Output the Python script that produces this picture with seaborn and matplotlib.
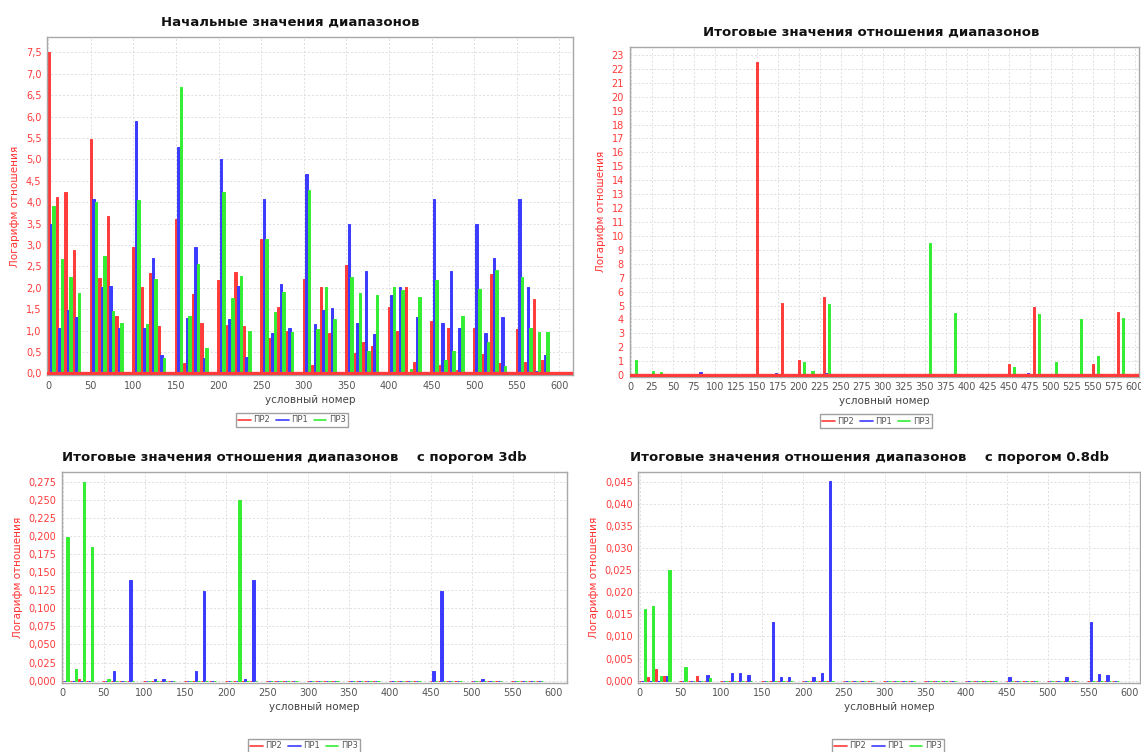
import pandas as pd
import seaborn as sns
import matplotlib
matplotlib.use("Agg")
import matplotlib.pyplot as plt
from matplotlib.lines import Line2D
from matplotlib.ticker import FuncFormatter, MultipleLocator


# условные номера групп (по три столбика в группе: ПР2, ПР1, ПР3)
nomera = [0, 10, 20, 30, 50, 60, 70, 80, 100, 110, 120, 130,
          150, 160, 170, 180, 200, 210, 220, 230, 250, 260, 270, 280,
          300, 310, 320, 330, 350, 360, 370, 380, 400, 410, 420, 430,
          450, 460, 470, 480, 500, 510, 520, 530, 550, 560, 570, 580]
series_names = ["ПР2", "ПР1", "ПР3"]

# 1. Начальные значения диапазонов
start_pr2 = [7.50, 4.11, 4.24, 2.87, 5.48, 2.23, 3.68, 1.35, 2.96, 2.01, 2.35, 1.11,
             3.61, 0.23, 1.85, 1.18, 2.17, 1.13, 2.36, 1.11, 3.14, 0.82, 1.56, 1.00,
             2.20, 0.19, 2.02, 0.95, 2.52, 0.48, 0.72, 0.64, 1.54, 1.00, 2.02, 0.27,
             1.22, 0.19, 1.07, 0.08, 1.07, 0.45, 2.32, 0.23, 1.03, 0.27, 1.73, 0.31]
start_pr1 = [3.49, 1.07, 1.48, 1.31, 4.07, 2.01, 2.04, 1.07, 5.90, 1.07, 2.69, 0.43,
             5.28, 1.30, 2.96, 0.35, 5.00, 1.27, 2.04, 0.39, 4.07, 0.95, 2.08, 1.07,
             4.66, 1.15, 1.48, 1.52, 3.49, 1.17, 2.40, 0.91, 1.82, 2.02, 0.02, 1.32,
             4.07, 1.17, 2.40, 1.07, 3.49, 0.95, 2.69, 1.32, 4.07, 2.01, 0.06, 0.43]
start_pr3 = [3.92, 2.68, 2.24, 1.87, 4.00, 2.73, 1.46, 1.18, 4.05, 1.15, 2.20, 0.35,
             6.70, 1.34, 2.55, 0.60, 4.24, 1.77, 2.28, 0.99, 3.14, 1.43, 1.91, 0.96,
             4.28, 1.03, 2.02, 1.26, 2.24, 1.88, 0.53, 1.82, 2.02, 1.95, 0.10, 1.78,
             2.17, 0.31, 0.51, 1.34, 1.96, 0.72, 2.41, 0.17, 2.24, 1.07, 0.97, 0.97]

# 2. Итоговые значения (ненулевые значения по номеру группы, остальные 0)
itog_pr2 = {10: 0.05, 150: 22.5, 180: 5.16, 200: 1.08, 230: 5.59,
            450: 0.77, 480: 4.92, 550: 0.77, 580: 4.56}
itog_pr1 = {80: 0.2, 160: 0.08, 170: 0.15, 230: 0.15, 470: 0.12, 580: 0.05}
itog_pr3 = {0: 1.08, 20: 0.33, 30: 0.24, 200: 0.94, 210: 0.31, 230: 5.08,
            350: 9.47, 380: 4.44, 450: 0.55, 480: 4.36, 500: 0.91,
            530: 4.0, 550: 1.37, 580: 4.08}

# 3. С порогом 3db
p3_pr2 = {20: 0.003}
p3_pr1 = {60: 0.0138, 80: 0.139, 110: 0.002, 120: 0.002, 160: 0.0134, 170: 0.124,
          220: 0.002, 230: 0.139, 450: 0.0134, 460: 0.124, 510: 0.002}
p3_pr3 = {0: 0.199, 10: 0.0166, 20: 0.275, 30: 0.184, 50: 0.003, 210: 0.2495}

# 4. С порогом 0.8db
p08_pr2 = {10: 0.0008, 20: 0.0026, 30: 0.001, 70: 0.001}
p08_pr1 = {30: 0.001, 80: 0.0012, 110: 0.0018, 120: 0.0018, 130: 0.0012,
           160: 0.0133, 170: 0.0009, 180: 0.0009, 210: 0.0009, 220: 0.0017,
           230: 0.0452, 450: 0.0009, 520: 0.0009, 550: 0.0133, 560: 0.0015,
           570: 0.0012}
p08_pr3 = {0: 0.0163, 10: 0.0168, 20: 0.001, 30: 0.0250, 50: 0.0031, 80: 0.0006}

colors = {"ПР2": "#ff3b3b", "ПР1": "#3b3bff", "ПР3": "#33ee33"}

sns.set_theme(style="white")
plt.rcParams["font.family"] = ["DejaVu Sans"]

W, H = 1141, 752
fig = plt.figure(figsize=(W / 100, H / 100), dpi=100)


def make_frame(pr2, pr1, pr3):
    rows = []
    for name, vals in zip(series_names, (pr2, pr1, pr3)):
        if isinstance(vals, dict):
            vals = [vals.get(n, 0.0) for n in nomera]
        for n, v in zip(nomera, vals):
            # shift so that the first bar of the group sits on its number
            rows.append({"nomer": n + 3, "value": v, "series": name})
    return pd.DataFrame(rows)


def px_axes(left, top, right, bottom):
    return fig.add_axes([left / W, 1 - bottom / H, (right - left) / W, (bottom - top) / H])


def comma_fmt(decimals):
    return FuncFormatter(lambda v, p: f"{v:.{decimals}f}".replace(".", ","))


def draw_panel(ax, df, xlim, ylim, ystep, decimals, xstep, red_base):
    sns.barplot(data=df, x="nomer", y="value", hue="series", hue_order=series_names,
                palette=colors, native_scale=True, width=0.9, saturation=1,
                errorbar=None, legend=False, ax=ax)
    for p in ax.patches:
        p.set_edgecolor(p.get_facecolor())
        p.set_linewidth(0.7)
    if red_base:
        ax.axhline(0, color="#ff3b3b", lw=2.4, zorder=3)
    ax.set_xlim(*xlim)
    ax.set_ylim(*ylim)
    ax.xaxis.set_major_locator(MultipleLocator(xstep))
    ax.yaxis.set_major_locator(MultipleLocator(ystep))
    ax.yaxis.set_major_formatter(comma_fmt(decimals))
    ax.grid(True, color="#dedede", lw=0.7, ls=(0, (2, 2)))
    ax.set_axisbelow(True)
    for s in ax.spines.values():
        s.set_color("#a8a8a8")
        s.set_linewidth(1.0)
    ax.tick_params(axis="both", length=2, width=0.6, color="#999999", labelsize=7, pad=2)
    ax.tick_params(axis="y", labelcolor="#ff3a3a")
    ax.tick_params(axis="x", labelcolor="#555555")
    ax.set_xlabel("условный номер", fontsize=7.5, color="#444444", labelpad=3)
    ax.set_ylabel("Логарифм отношения", fontsize=7.5, color="#ff3030", labelpad=4)


def legend_at(x, y):
    handles = [Line2D([], [], color=colors[n], lw=1.2) for n in series_names]
    fig.legend(handles, series_names, loc="center", bbox_to_anchor=(x / W, 1 - y / H),
               ncol=3, fontsize=6, frameon=True, fancybox=False, edgecolor="#888888",
               handlelength=1.5, handletextpad=0.3, columnspacing=0.7,
               borderpad=0.3, labelcolor="#555555")


# top left
ax1 = px_axes(47, 37, 573, 375)
draw_panel(ax1, make_frame(start_pr2, start_pr1, start_pr3),
           (-1.5, 616), (-0.04, 7.86), 0.5, 1, 50, True)
fig.text(290 / W, 1 - 22 / H, "Начальные значения диапазонов", ha="center", va="center",
         fontsize=9.5, fontweight="bold", color="#111111")
legend_at(292, 420)

# top right
ax2 = px_axes(629.5, 47, 1139, 376.5)
draw_panel(ax2, make_frame(itog_pr2, itog_pr1, itog_pr3),
           (-1.7, 605), (-0.1, 23.57), 1, 0, 25, True)
fig.text(871 / W, 1 - 32 / H, "Итоговые значения отношения диапазонов", ha="center",
         va="center", fontsize=9.5, fontweight="bold", color="#111111")
legend_at(876, 421)

# bottom left
ax3 = px_axes(61.7, 472.3, 566.7, 682.5)
draw_panel(ax3, make_frame(p3_pr2, p3_pr1, p3_pr3),
           (-1.2, 616), (-0.0025, 0.2878), 0.025, 3, 50, False)
fig.text(294 / W, 1 - 458 / H, "Итоговые значения отношения диапазонов    с порогом 3db",
         ha="center", va="center", fontsize=9.5, fontweight="bold", color="#111111")
legend_at(304, 746)

# bottom right
ax4 = px_axes(638.3, 472.3, 1140, 682.5)
draw_panel(ax4, make_frame(p08_pr2, p08_pr1, p08_pr3),
           (-2, 613), (-0.0004, 0.0471), 0.005, 3, 50, False)
fig.text(870 / W, 1 - 458 / H, "Итоговые значения отношения диапазонов    с порогом 0.8db",
         ha="center", va="center", fontsize=9.5, fontweight="bold", color="#111111")
legend_at(888, 746)

fig.savefig("out.png", dpi=100, facecolor="white")
